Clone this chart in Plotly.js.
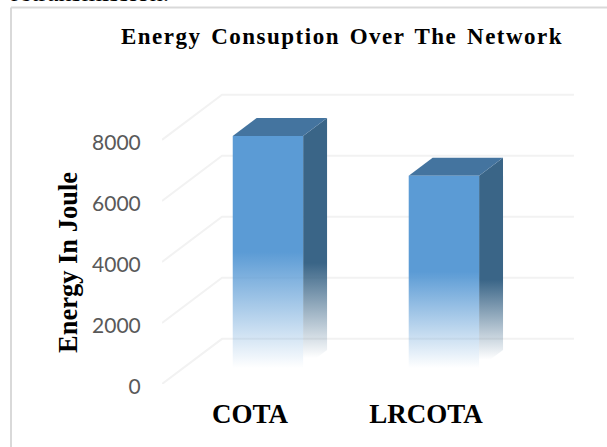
<!DOCTYPE html>
<html>
<head>
<meta charset="utf-8">
<script src="https://cdn.plot.ly/plotly-3.0.1.min.js"></script>
<style>
  html, body { margin: 0; padding: 0; background: #fff; overflow: hidden; }
  .gtitle { letter-spacing: 1.5px; word-spacing: 2.5px; }
</style>
</head>
<body>
<div id="chart" style="width:607px;height:447px;"></div>
<script>
// Chart content
const categories = ["COTA", "LRCOTA"];
const energyJoule = [7600, 6300];
const yTicks = [0, 2000, 4000, 6000, 8000];
const chartTitle = "Energy Consuption Over The Network";
const yAxisTitle = "Energy In Joule";
const captionAbove = "retransmission.";

// Oblique projection of the 3D column look, in axis units
const wallDx = 0.341, wallDy = 1480;     // floor depth to the back wall
const barFrontDx = 0.102, barFrontDy = 524; // front face of a column
const barDepthDx = 0.136, barDepthDy = 590; // column depth
const barHalfWidth = 0.2;

// Plot box in page pixels
const W = 607, H = 447;
const M = { l: 162, r: 32, t: 91, b: 63 };
const px = x => (x - M.l) / (W - M.l - M.r);
const py = y => 1 - (y - M.t) / (H - M.t - M.b);

const traces = [];

// Floor-to-wall gridlines
yTicks.forEach(v => {
  traces.push({
    type: "scatter", mode: "lines", cliponaxis: false, hoverinfo: "skip", showlegend: false,
    x: [-0.5, -0.5 + wallDx, 1.5 + wallDx],
    y: [v, v + wallDy, v + wallDy],
    line: { color: "#f2f2f2", width: 2 }
  });
});

const face = (x, y, fill, gradient) => {
  const t = {
    type: "scatter", mode: "lines", fill: "toself", cliponaxis: false,
    hoverinfo: "skip", showlegend: false, x, y,
    line: { width: 0 }
  };
  if (gradient) t.fillgradient = gradient; else t.fillcolor = fill;
  return t;
};

categories.forEach((name, i) => {
  const v = energyJoule[i];
  const x0 = i + barFrontDx - barHalfWidth;
  const x1 = i + barFrontDx + barHalfWidth;
  const b0 = barFrontDy;
  const t0 = v + barFrontDy;

  // right side, fading towards the floor
  traces.push(face(
    [x1, x1 + barDepthDx, x1 + barDepthDx, x1, x1],
    [b0, b0 + barDepthDy, t0 + barDepthDy, t0, b0],
    null,
    { type: "vertical", colorscale: [
      [0, "rgba(58,101,135,0)"], [0.04, "rgba(58,101,135,0)"],
      [0.42, "rgba(58,101,135,1)"], [1, "rgba(58,101,135,1)"] ] }
  ));
  // top face
  traces.push(face(
    [x0, x1, x1 + barDepthDx, x0 + barDepthDx, x0],
    [t0, t0, t0 + barDepthDy, t0 + barDepthDy, t0],
    "#44749f"
  ));
  // front face, solid over the top half and fading below
  traces.push(face(
    [x0, x1, x1, x0, x0],
    [b0, b0, t0, t0, b0],
    null,
    { type: "vertical", colorscale: [
      [0, "rgba(91,155,213,0)"], [0.5, "rgba(91,155,213,1)"], [1, "rgba(91,155,213,1)"] ] }
  ));
});

const layout = {
  width: W, height: H,
  margin: M,
  paper_bgcolor: "#ffffff", plot_bgcolor: "#ffffff",
  showlegend: false,
  title: {
    text: chartTitle,
    font: { family: "Liberation Serif", size: 23, color: "#000000", weight: 700 },
    x: 342 / W, xanchor: "center", xref: "container",
    y: 1 - 36 / H, yanchor: "middle", yref: "container"
  },
  xaxis: {
    range: [-0.5, 1.847], showgrid: false, zeroline: false, showline: false,
    tickmode: "array", tickvals: categories.map((_, i) => i), ticktext: categories,
    ticks: "outside", ticklen: 6, tickcolor: "rgba(0,0,0,0)",
    tickfont: { family: "Liberation Serif", size: 27, color: "#000000", weight: 700 }
  },
  yaxis: {
    range: [0, 9600], showgrid: false, zeroline: false, showline: false,
    tickmode: "array", tickvals: yTicks,
    ticks: "outside", ticklen: 16, tickcolor: "rgba(0,0,0,0)",
    ticklabelshift: 3,
    tickfont: { family: "Lato", size: 21, color: "#595959" }
  },
  annotations: [
    {
      text: yAxisTitle, textangle: -90, showarrow: false,
      xref: "paper", yref: "paper", x: px(68), y: py(263),
      xanchor: "center", yanchor: "middle",
      font: { family: "Liberation Serif", size: 26.5, color: "#000000", weight: 700 }
    },
    {
      text: captionAbove, showarrow: false,
      xref: "paper", yref: "paper", x: px(10), y: py(8),
      xanchor: "left", yanchor: "bottom", borderpad: 0,
      font: { family: "Liberation Serif", size: 26, color: "#000000" }
    }
  ],
  shapes: [
    {
      type: "line", xref: "paper", yref: "paper",
      x0: px(11), x1: px(11), y0: py(7.5), y1: py(447),
      line: { color: "#d9d9d9", width: 2 }
    },
    {
      type: "line", xref: "paper", yref: "paper",
      x0: px(11), x1: px(607), y0: py(7.5), y1: py(7.5),
      line: { color: "#d9d9d9", width: 2 }
    }
  ]
};

Plotly.newPlot("chart", traces, layout, { displayModeBar: false, staticPlot: true });
</script>
</body>
</html>
